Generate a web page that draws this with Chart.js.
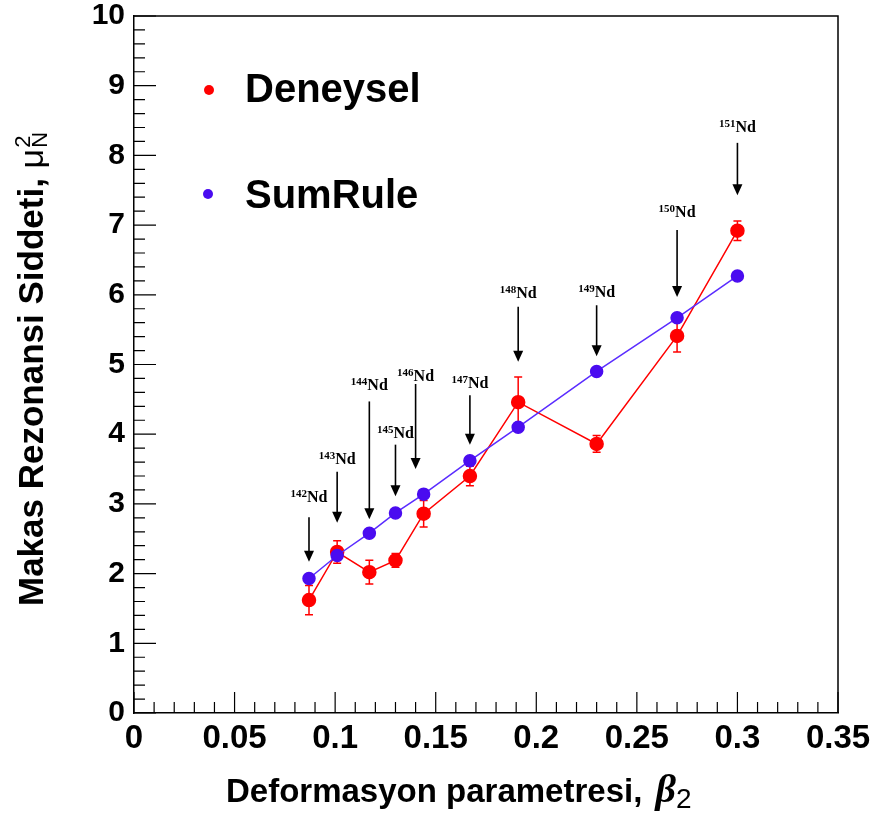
<!DOCTYPE html>
<html><head><meta charset="utf-8">
<script src="https://cdn.jsdelivr.net/npm/chart.js@4.4.1/dist/chart.umd.min.js"></script>
<style>html,body{margin:0;padding:0;background:#fff;overflow:hidden}#wrap{width:876px;height:821px;position:relative}</style>
</head><body><div id="wrap"><canvas id="c" width="876" height="821"></canvas></div>
<script>
// ---- data ----
const isotopes = ['142','143','144','145','146','147','148','149','150','151'];
const beta2 = [0.087,0.101,0.117,0.130,0.144,0.167,0.191,0.230,0.270,0.300];
const deneysel = [1.62,2.31,2.02,2.19,2.86,3.40,4.46,3.86,5.41,6.92];
const deneyselErr = [0.21,0.16,0.17,0.10,0.19,0.14,0.36,0.12,0.23,0.14];
const sumRule = [1.93,2.26,2.58,2.87,3.14,3.62,4.10,4.90,5.67,6.27];
// annotation arrows (data units)
const arrowX = [0.087,0.101,0.117,0.130,0.140,0.167,0.191,0.230,0.270,0.300];
const arrowFrom = [2.81,3.46,4.47,3.85,4.72,4.56,5.83,5.85,6.93,8.18];
const arrowTo = [2.17,2.73,2.78,3.11,3.50,3.85,5.04,5.12,5.97,7.43];
const labelAt = [3.03,3.57,4.64,3.95,4.76,4.66,5.95,5.97,7.12,8.34];
const xTickLabels = ['0','0.05','0.1','0.15','0.2','0.25','0.3','0.35'];
const yTickLabels = ['0','1','2','3','4','5','6','7','8','9','10'];
const seriesNames = ['Deneysel','SumRule'];

const RED = '#ff0000', BLUE = '#4a0cf0';
const SANS = '"Liberation Sans", Arial, Helvetica, sans-serif';
const SERIF = '"Liberation Serif", "Times New Roman", serif';

const decor = {
  id: 'decor',
  beforeDatasetsDraw(chart) {
    const ctx = chart.ctx, xs = chart.scales.x, ys = chart.scales.y;
    ctx.save();
    ctx.strokeStyle = RED; ctx.lineWidth = 1.5;
    for (let i = 0; i < beta2.length; i++) {
      const px = xs.getPixelForValue(beta2[i]);
      const t = ys.getPixelForValue(deneysel[i] + deneyselErr[i]);
      const b = ys.getPixelForValue(deneysel[i] - deneyselErr[i]);
      ctx.beginPath();
      ctx.moveTo(px, t); ctx.lineTo(px, b);
      ctx.moveTo(px - 4, t); ctx.lineTo(px + 4, t);
      ctx.moveTo(px - 4, b); ctx.lineTo(px + 4, b);
      ctx.stroke();
    }
    ctx.restore();
  },
  afterDatasetsDraw(chart) {
    const ctx = chart.ctx, xs = chart.scales.x, ys = chart.scales.y;
    ctx.save();
    for (let i = 0; i < isotopes.length; i++) {
      const px = xs.getPixelForValue(arrowX[i]);
      const y0 = ys.getPixelForValue(arrowFrom[i]);
      const y1 = ys.getPixelForValue(arrowTo[i]);
      ctx.strokeStyle = '#000'; ctx.fillStyle = '#000'; ctx.lineWidth = 1.6;
      ctx.beginPath(); ctx.moveTo(px, y0); ctx.lineTo(px, y1 - 9); ctx.stroke();
      ctx.beginPath(); ctx.moveTo(px - 5, y1 - 11); ctx.lineTo(px + 5, y1 - 11); ctx.lineTo(px, y1); ctx.closePath(); ctx.fill();
      const ly = ys.getPixelForValue(labelAt[i]);
      ctx.font = 'bold 11px ' + SERIF;
      const wSup = ctx.measureText(isotopes[i]).width;
      ctx.font = 'bold 16px ' + SERIF;
      const wNd = ctx.measureText('Nd').width;
      const x0 = px - (wSup + wNd) / 2;
      ctx.textBaseline = 'alphabetic'; ctx.textAlign = 'left';
      ctx.fillText('Nd', x0 + wSup, ly);
      ctx.font = 'bold 11px ' + SERIF;
      ctx.fillText(isotopes[i], x0, ly - 5);
    }
    ctx.restore();
  },
  afterDraw(chart) {
    const ctx = chart.ctx, a = chart.chartArea, xs = chart.scales.x, ys = chart.scales.y;
    ctx.save();
    ctx.strokeStyle = '#000'; ctx.lineWidth = 1.5;
    ctx.beginPath();
    ctx.moveTo(a.left, a.top); ctx.lineTo(a.right, a.top); ctx.lineTo(a.right, a.bottom);
    ctx.stroke();
    ctx.lineWidth = 1.2;
    ctx.beginPath();
    for (let k = 0; k <= 35; k++) {
      const px = xs.getPixelForValue(k * 0.01);
      const len = (k % 5 === 0) ? 21 : 11;
      ctx.moveTo(px, a.bottom); ctx.lineTo(px, a.bottom - len);
    }
    for (let k = 0; k <= 50; k++) {
      const py = ys.getPixelForValue(k * 0.2);
      const len = (k % 5 === 0) ? 22 : 11;
      ctx.moveTo(a.left, py); ctx.lineTo(a.left + len, py);
    }
    ctx.stroke();
    // legend
    const leg = [[RED, 209, 90, 245, 102], [BLUE, 208, 194, 245, 208]];
    leg.forEach((l, i) => {
      ctx.fillStyle = l[0];
      ctx.beginPath(); ctx.arc(l[1], l[2], 5, 0, Math.PI * 2); ctx.fill();
      ctx.fillStyle = '#000';
      ctx.font = 'bold 40px ' + SANS;
      ctx.textAlign = 'left'; ctx.textBaseline = 'alphabetic';
      ctx.fillText(seriesNames[i], l[3], l[4]);
    });
    // x title
    ctx.fillStyle = '#000';
    ctx.font = 'bold 33px ' + SANS;
    const xt = 'Deformasyon parametresi, ';
    ctx.fillText(xt, 226, 802);
    const w1 = ctx.measureText(xt).width;
    ctx.font = 'italic bold 40px ' + SERIF;
    ctx.fillText('\u03B2', 226 + w1 + 4, 802);
    const wb = ctx.measureText('\u03B2').width;
    ctx.font = '28px ' + SANS;
    ctx.fillText('2', 226 + w1 + 4 + wb, 808);
    // y title
    ctx.translate(43, 606);
    ctx.rotate(-Math.PI / 2);
    ctx.font = 'bold 35px ' + SANS;
    const yt = 'Makas Rezonansi Siddeti, ';
    ctx.fillText(yt, 0, 0);
    const wy = ctx.measureText(yt).width;
    ctx.font = '34px ' + SANS;
    ctx.fillText('\u03BC', wy, 0);
    const wm = ctx.measureText('\u03BC').width;
    ctx.font = '22px ' + SANS;
    ctx.fillText('2', wy + wm + 1, -13);
    ctx.fillText('N', wy + wm + 1, 4);
    ctx.restore();
  }
};

new Chart(document.getElementById('c'), {
  type: 'line',
  data: {
    datasets: [
      {
        label: seriesNames[1],
        data: beta2.map((x, i) => ({x: x, y: sumRule[i]})),
        borderColor: '#5a2cff', backgroundColor: BLUE,
        pointBackgroundColor: BLUE, pointBorderColor: BLUE,
        borderWidth: 1.5, pointRadius: 6, pointHoverRadius: 6, tension: 0, order: 0
      },
      {
        label: seriesNames[0],
        data: beta2.map((x, i) => ({x: x, y: deneysel[i]})),
        borderColor: RED, backgroundColor: RED,
        pointBackgroundColor: RED, pointBorderColor: RED,
        borderWidth: 1.5, pointRadius: 6.5, pointHoverRadius: 6.5, tension: 0, order: 1
      }
    ]
  },
  options: {
    responsive: false, animation: false, devicePixelRatio: 1,
    layout: {padding: {top: 16, right: 38, left: 0, bottom: 0}},
    plugins: {legend: {display: false}, tooltip: {enabled: false}},
    scales: {
      x: {
        type: 'linear', min: 0, max: 0.35,
        grid: {display: false, drawTicks: false},
        border: {display: true, color: '#000', width: 1.5},
        ticks: {
          stepSize: 0.05, autoSkip: false, maxRotation: 0, padding: 6,
          color: '#000', font: {family: SANS, weight: 'bold', size: 33},
          callback: (v, i) => xTickLabels[i]
        },
        afterFit: s => { s.height = 108; s.paddingLeft = 0; s.paddingRight = 0; }
      },
      y: {
        min: 0, max: 10,
        grid: {display: false, drawTicks: false},
        border: {display: true, color: '#000', width: 1.5},
        ticks: {
          stepSize: 1, autoSkip: false, padding: 9,
          color: '#000', font: {family: SANS, weight: 'bold', size: 30},
          callback: (v, i) => yTickLabels[i]
        },
        afterFit: s => { s.width = 134; s.paddingTop = 0; s.paddingBottom = 0; }
      }
    }
  },
  plugins: [decor]
});
</script>
</body></html>
